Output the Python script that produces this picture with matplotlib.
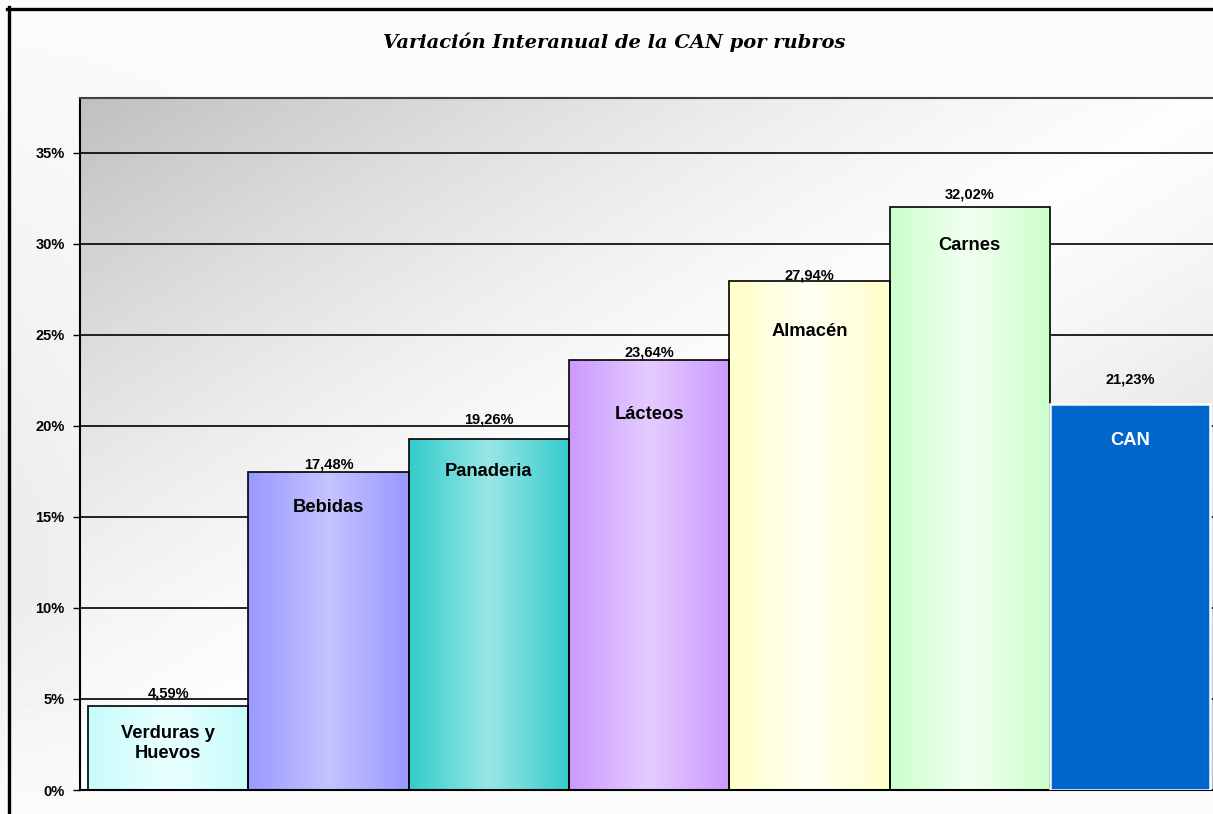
import numpy as np
import matplotlib.pyplot as plt
from matplotlib.colors import LinearSegmentedColormap
from matplotlib.lines import Line2D

# datos
rubros = ['Verduras y\nHuevos', 'Bebidas', 'Panaderia', 'Lácteos', 'Almacén', 'Carnes', 'CAN']
variacion = [4.59, 17.48, 19.26, 23.64, 27.94, 32.02, 21.23]
etiquetas = ['4,59%', '17,48%', '19,26%', '23,64%', '27,94%', '32,02%', '21,23%']
yticks = [0, 5, 10, 15, 20, 25, 30, 35]

# colores borde / centro del degradado
col_borde = ['#c8fcfc', '#9999ff', '#33cccc', '#cc99ff', '#ffffc8', '#ccffcc', '#0066cc']
col_centro = ['#eaffff', '#c4c4ff', '#9ae6e6', '#e4ccff', '#fffff4', '#f2fff2', '#0066cc']
# posicion de textos (en % respecto al tope de la barra)
off_nombre = [-2.03, -1.98, -1.76, -3.02, -2.75, -2.09, -2.03]
off_valor = [0.71, 0.38, 1.1, 0.38, 0.33, 0.71, 1.32]

W, H = 1213, 814
fig = plt.figure(figsize=(W / 100, H / 100), dpi=100)

# fondo de la figura
bg = fig.add_axes([0, 0, 1, 1], zorder=-10)
gy, gx = np.mgrid[0:1:200j, 0:1:200j]
fondo = 0.985 - 0.06 * np.clip(1 - gx * 4, 0, 1) * np.clip(gy * 1.6, 0, 1) * np.clip((1 - gy) * 4, 0, 1)
bg.imshow(fondo, cmap='gray', vmin=0, vmax=1, extent=[0, 1, 0, 1], aspect='auto')
bg.axis('off')

ax = fig.add_axes([80 / W, (H - 790) / H, (W - 80) / W, (790 - 98) / H])
XL = (-0.55, 6.518)
YL = (0, 38.02)

# fondo del area de trazado: gris en las esquinas sup-izq / inf-der, claro en la diagonal
py, px = np.mgrid[0:1:300j, 0:1:300j]
d = np.abs(py - px)
grad = 0.99 - 0.24 * d ** 1.4
ax.imshow(grad, cmap='gray', vmin=0, vmax=1, extent=[XL[0], XL[1], YL[0], YL[1]],
          aspect='auto', zorder=0, origin='lower')

for y in yticks[1:]:
    ax.axhline(y, color='black', lw=1.2, zorder=1)

x = np.arange(len(rubros))
bars = ax.bar(x, variacion, width=1.0, color='none', edgecolor='black', lw=1.2, zorder=3)
for i, b in enumerate(bars):
    if i == len(bars) - 1:
        b.set_facecolor(col_borde[i])
        b.set_edgecolor('white')
        b.set_linewidth(1.8)
        continue
    cmap = LinearSegmentedColormap.from_list('g%d' % i, [col_borde[i], col_centro[i], col_borde[i]])
    img = ax.imshow(np.linspace(0, 1, 256).reshape(1, -1), cmap=cmap, aspect='auto',
                    extent=[x[i] - 0.5, x[i] + 0.5, 0, variacion[i]], zorder=2)
    img.set_clip_path(b)

ax.set_xlim(*XL)
ax.set_ylim(*YL)

for i in range(len(rubros)):
    ax.text(x[i], variacion[i] + off_valor[i], etiquetas[i], ha='center', va='center',
            fontsize=10.5, fontweight='bold', family='Liberation Sans', zorder=5)
    ax.text(x[i], variacion[i] + off_nombre[i], rubros[i], ha='center', va='center',
            fontsize=13.2, fontweight='bold', family='Liberation Sans', linespacing=1.2,
            color='white' if i == len(rubros) - 1 else 'black', zorder=5)

ax.set_yticks(yticks)
ax.set_yticklabels(['%d%%' % v for v in yticks], fontsize=10.5, fontweight='bold',
                   family='Liberation Sans')
ax.set_xticks([])
ax.tick_params(axis='y', length=5, width=1, pad=6)
for sp in ['left', 'bottom']:
    ax.spines[sp].set_linewidth(1.5)
ax.spines['top'].set_color('#404040')
ax.spines['top'].set_linewidth(1.5)
ax.spines['right'].set_visible(False)

fig.text(614 / W, 1 - 42 / H, 'Variación Interanual de la CAN por rubros', ha='center',
         va='center', fontsize=14, fontweight='bold', fontstyle='italic', family='DejaVu Serif')

# marco exterior
fig.add_artist(Line2D([8.5 / W, 8.5 / W], [0, 1 - 7 / H], color='black', lw=2.4))
fig.add_artist(Line2D([7 / W, 1], [1 - 8.5 / H, 1 - 8.5 / H], color='black', lw=2.4))

fig.savefig('out.png', dpi=100)
